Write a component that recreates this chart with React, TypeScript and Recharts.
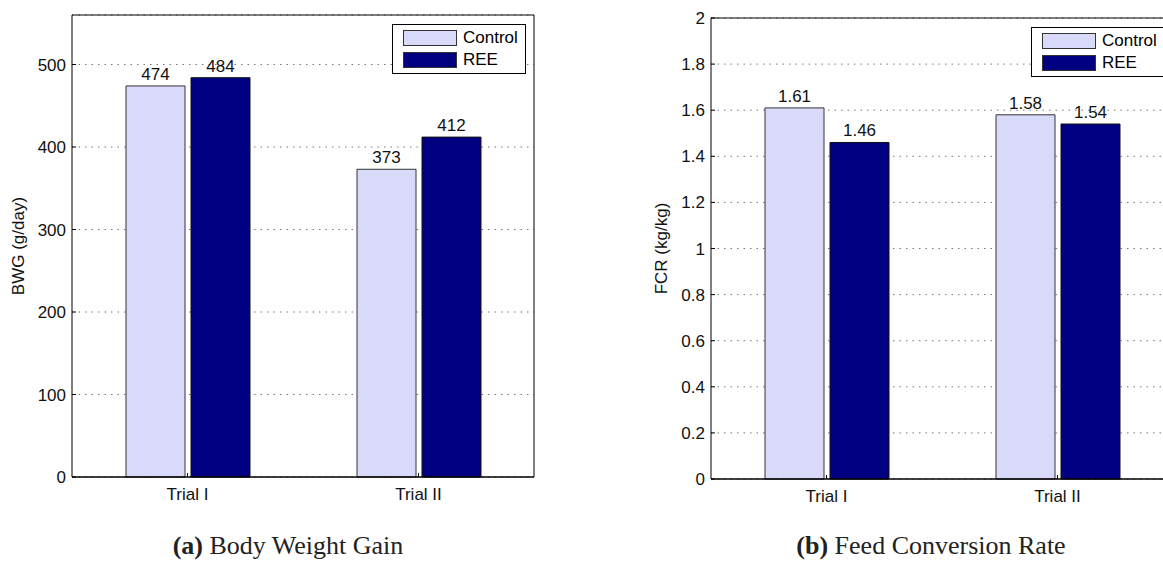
import { Bar, BarChart, CartesianGrid, LabelList, Legend, XAxis, YAxis } from "recharts";

const FONT = '"Liberation Sans", Arial, Helvetica, sans-serif';
const CONTROL_COLOR = "#d9d9fa"; // pale lavender
const REE_COLOR = "#000080"; // navy

const trials = ["Trial I", "Trial II"];

const bwgControl = [474, 373];
const bwgRee = [484, 412];
const bwgTicks = [0, 100, 200, 300, 400, 500];

const fcrControl = [1.61, 1.58];
const fcrRee = [1.46, 1.54];
const fcrTicks = [0, 0.2, 0.4, 0.6, 0.8, 1, 1.2, 1.4, 1.6, 1.8, 2];

function buildRows(control: number[], ree: number[]) {
  return trials.map((trial, i) => ({ trial, control: control[i], ree: ree[i] }));
}

function BoxLegend(props: any) {
  const payload = props.payload ?? [];
  return (
    <div
      style={{
        position: "relative",
        width: 132,
        height: 48,
        border: "1px solid #000",
        background: "#fff",
        fontFamily: FONT,
        fontSize: 17,
        color: "#000",
      }}
    >
      {payload.map((p: any, i: number) => (
        <div
          key={p.value}
          style={{ position: "absolute", left: 10, top: 5 + i * 22, display: "flex", alignItems: "center" }}
        >
          <span
            style={{
              display: "inline-block",
              width: 52,
              height: 14,
              background: p.color,
              border: "1px solid #333",
            }}
          />
          <span style={{ marginLeft: 6, lineHeight: "16px" }}>{p.value}</span>
        </div>
      ))}
    </div>
  );
}

interface PanelProps {
  rows: { trial: string; control: number; ree: number }[];
  ticks: number[];
  domain: [number, number];
  yLabel: string;
  labelX: number;
  top: number;
  bottom: number;
  legendTop: number;
  digits: number;
}

function Panel({ rows, ticks, domain, yLabel, labelX, top, bottom, legendTop, digits }: PanelProps) {
  const fmt = (v: any) => Number(v).toFixed(digits);
  const tickStyle = { fontSize: 17, fill: "#111", fontFamily: FONT };
  return (
    <BarChart
      width={560}
      height={530}
      data={rows}
      // top/right axes are 1px wide, so margins are 1px less
      margin={{ top: top - 1, right: 25, left: 0, bottom }}
      barSize={59}
      barGap={6}
    >
      <CartesianGrid vertical={false} stroke="#777" strokeDasharray="1.5 5" />
      <XAxis
        dataKey="trial"
        height={30}
        interval={0}
        tickSize={-4}
        tickMargin={15}
        tick={tickStyle}
        axisLine={{ stroke: "#000", strokeWidth: 1.5 }}
        tickLine={{ stroke: "#000" }}
      />
      <XAxis
        xAxisId="top"
        orientation="top"
        dataKey="trial"
        height={1}
        interval={0}
        tick={false}
        tickSize={-4}
        axisLine={{ stroke: "#000" }}
        tickLine={{ stroke: "#000" }}
      />
      <YAxis
        type="number"
        domain={domain}
        ticks={ticks}
        interval={0}
        width={72}
        tickSize={-4}
        tickMargin={10}
        tick={tickStyle}
        axisLine={{ stroke: "#000" }}
        tickLine={{ stroke: "#000" }}
        label={(props: any) => {
          const vb = props.viewBox;
          const cx = vb.x + labelX;
          const cy = vb.y + vb.height / 2;
          return (
            <text
              x={cx}
              y={cy}
              transform={`rotate(-90 ${cx} ${cy})`}
              textAnchor="middle"
              dominantBaseline="central"
              style={{ fontSize: 17, fill: "#111", fontFamily: FONT }}
            >
              {yLabel}
            </text>
          );
        }}
      />
      <YAxis
        yAxisId="right"
        orientation="right"
        type="number"
        domain={domain}
        ticks={ticks}
        interval={0}
        width={1}
        tick={false}
        tickSize={-4}
        axisLine={{ stroke: "#000" }}
        tickLine={{ stroke: "#000" }}
      />
      <Legend
        layout="horizontal"
        verticalAlign="middle"
        align="center"
        content={BoxLegend}
        wrapperStyle={{ left: 392, top: legendTop, width: 136, height: 52 }}
      />
      <Bar dataKey="control" name="Control" fill={CONTROL_COLOR} stroke="#333" strokeWidth={1} isAnimationActive={false}>
        <LabelList dataKey="control" position="top" offset={6} formatter={fmt} style={tickStyle} />
      </Bar>
      <Bar dataKey="ree" name="REE" fill={REE_COLOR} stroke="#111" strokeWidth={1} isAnimationActive={false}>
        <LabelList dataKey="ree" position="top" offset={6} formatter={fmt} style={tickStyle} />
      </Bar>
    </BarChart>
  );
}

const captionStyle: React.CSSProperties = {
  position: "absolute",
  top: 531,
  width: 400,
  textAlign: "center",
  fontFamily: '"Liberation Serif", "Times New Roman", serif',
  fontSize: 26,
  color: "#222",
};

export default function App() {
  return (
    <div
      style={{
        position: "fixed",
        left: 0,
        top: 0,
        width: 1163,
        height: 580,
        overflow: "hidden",
        background: "#fff",
      }}
    >
      <div style={{ position: "absolute", left: 0, top: 0 }}>
        <Panel
          rows={buildRows(bwgControl, bwgRee)}
          ticks={bwgTicks}
          domain={[0, 560]}
          yLabel="BWG (g/day)"
          labelX={18}
          top={15}
          bottom={23}
          legendTop={24}
          digits={0}
        />
      </div>
      <div style={{ position: "absolute", left: 639, top: 0 }}>
        <Panel
          rows={buildRows(fcrControl, fcrRee)}
          ticks={fcrTicks}
          domain={[0, 2]}
          yLabel="FCR (kg/kg)"
          labelX={22}
          top={18}
          bottom={21}
          legendTop={27}
          digits={2}
        />
      </div>
      <div style={{ ...captionStyle, left: 88 }}>
        <b>(a)</b> Body Weight Gain
      </div>
      <div style={{ ...captionStyle, left: 731 }}>
        <b>(b)</b> Feed Conversion Rate
      </div>
    </div>
  );
}
